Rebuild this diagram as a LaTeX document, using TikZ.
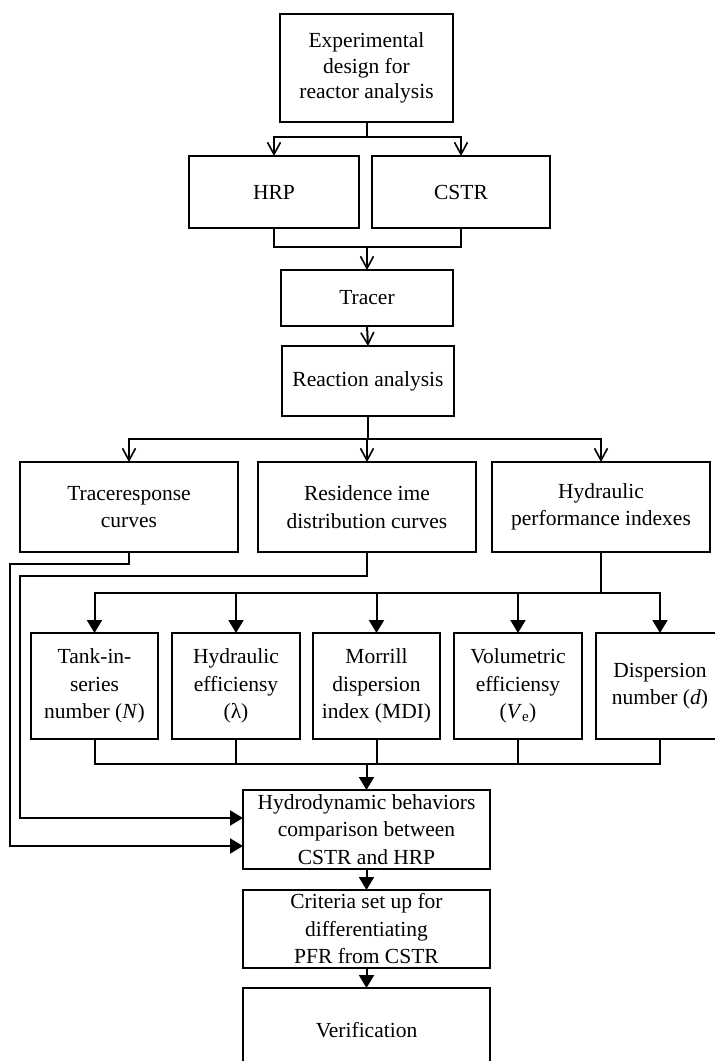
\documentclass[tikz,border=0pt]{standalone}
\usepackage{fontspec}
\setmainfont{Liberation Serif}
\usetikzlibrary{arrows.meta}
\tikzset{
  box/.style={draw, line width=2pt, inner sep=0pt, outer sep=0pt, align=center,
    font=\fontsize{21.5}{27.5}\selectfont},
  con/.style={line width=2pt},
  oa/.style={con, -{Straight Barb[length=12pt,width=13pt,line width=1.6pt]}},
  fa/.style={con, -{Triangle[length=13pt,width=15pt]}}
}
\begin{document}
\begin{tikzpicture}[x=1pt,y=-1pt]
\useasboundingbox (0,0) rectangle (715,1061);
\clip (0,0) rectangle (715,1061);
% top part
\node[box, minimum width=173pt, minimum height=108pt, font=\fontsize{21.5}{25.5}\selectfont] (top) at (366.5,68) {Experimental\\design for\\reactor analysis};
\node[box, minimum width=170pt, minimum height=72pt] (hrp) at (274,192) {HRP};
\node[box, minimum width=178pt, minimum height=72pt] (cstr) at (461,192) {CSTR};
\node[box, minimum width=172pt, minimum height=56pt] (tracer) at (367,298) {Tracer};
\node[box, minimum width=172pt, minimum height=70pt] (react) at (368,381) {Reaction analysis};
% row 3
\node[box, minimum width=218pt, minimum height=90pt] (A) at (129,507) {Traceresponse\\curves};
\node[box, minimum width=218pt, minimum height=90pt] (B) at (367,507) {Residence ime\\distribution curves};
\node[box, minimum width=218pt, minimum height=90pt] (C) at (601,507) {Hydraulic\\performance indexes};
% row 4
\node[box, minimum width=127pt, minimum height=106pt] (n1) at (94.5,686) {Tank-in-\\series\\number (\textit{N})};
\node[box, minimum width=128pt, minimum height=106pt] (n2) at (236,686) {Hydraulic\\efficiensy\\(λ)};
\node[box, minimum width=127pt, minimum height=106pt] (n3) at (376.5,686) {Morrill\\dispersion\\index (MDI)};
\node[box, minimum width=128pt, minimum height=106pt] (n4) at (518,686) {Volumetric\\efficiensy\\(\textit{V}\textsubscript{e})};
\node[box, minimum width=128pt, minimum height=106pt] (n5) at (660,686) {Dispersion\\number (\textit{d})};
% bottom
\node[box, minimum width=247pt, minimum height=79pt] (hydro) at (366.5,829.5) {Hydrodynamic behaviors\\comparison between\\CSTR and HRP};
\node[box, minimum width=247pt, minimum height=78pt] (crit) at (366.5,929) {Criteria set up for\\differentiating\\PFR from CSTR};
\node[box, minimum width=247pt, minimum height=84pt] (verif) at (366.5,1030) {Verification};
% coordinates
\coordinate (b1) at (366.5,137);
\coordinate (j1) at (367,247);
\coordinate (b2) at (368,439);
\coordinate (la) at (10,564);
\coordinate (lb) at (20,576);
\coordinate (b3) at (601,593);
\coordinate (j2) at (366.5,764);
% connectors
\draw[con] (top.south) -- (b1);
\draw[oa] (b1) -| (hrp.north);
\draw[oa] (b1) -| (cstr.north);
\draw[con] (hrp.south) |- (j1);
\draw[con] (cstr.south) |- (j1);
\draw[oa] (j1) -- (tracer.north);
\draw[oa] (tracer.south) -- (react.north);
\draw[con] (react.south) -- (b2);
\draw[oa] (b2) -| (A.north);
\draw[oa] (b2) -| (B.north);
\draw[oa] (b2) -| (C.north);
\draw[fa] (A.south) |- (la) |- ([yshift=-16.5pt]hydro.west);
\draw[fa] (B.south) |- (lb) |- ([yshift=11.5pt]hydro.west);
\draw[con] (C.south) -- (b3);
\foreach \n in {n1,n2,n3,n4,n5} {\draw[fa] (b3) -| (\n.north);}
\foreach \n in {n1,n2,n3,n4,n5} {\draw[con] (\n.south) |- (j2);}
\draw[fa] (j2) -- (hydro.north);
\draw[fa] (hydro.south) -- (crit.north);
\draw[fa] (crit.south) -- (verif.north);
\end{tikzpicture}
\end{document}
